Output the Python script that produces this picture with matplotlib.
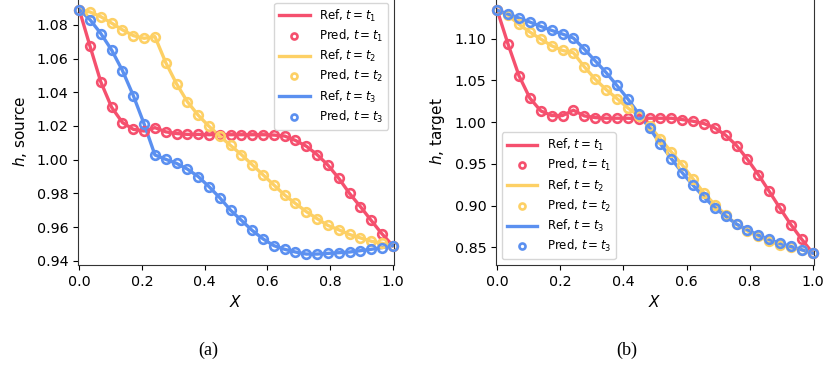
import matplotlib
matplotlib.use("Agg")
import matplotlib.pyplot as plt
import numpy as np

n_points = 30
x_grid = np.linspace(0.0, 1.0, n_points)

# Panel (a): source
src_t1 = [1.089, 1.0672, 1.046, 1.031, 1.022, 1.018, 1.017, 1.019, 1.0165, 1.0155,
          1.015, 1.015, 1.0148, 1.0148, 1.0148, 1.0148, 1.0148, 1.0148, 1.0146, 1.014,
          1.0114, 1.008, 1.003, 0.9968, 0.989, 0.980, 0.9722, 0.964, 0.956, 0.949]
src_t2 = [1.089, 1.0876, 1.0848, 1.081, 1.077, 1.0736, 1.072, 1.073, 1.0576, 1.045,
          1.0344, 1.0264, 1.0198, 1.014, 1.0084, 1.003, 0.997, 0.991, 0.985, 0.979,
          0.974, 0.9692, 0.965, 0.961, 0.9584, 0.9556, 0.9536, 0.9516, 0.9504, 0.949]
src_t3 = [1.089, 1.083, 1.0748, 1.065, 1.0528, 1.038, 1.0212, 1.0028, 1.0002, 0.9978,
          0.9944, 0.990, 0.984, 0.9774, 0.970, 0.964, 0.958, 0.953, 0.949, 0.9468,
          0.9452, 0.944, 0.944, 0.9444, 0.9448, 0.9452, 0.946, 0.9468, 0.9478, 0.949]

# Panel (b): target
tgt_t1 = [1.134, 1.0932, 1.0556, 1.0288, 1.0136, 1.008, 1.008, 1.0144, 1.0076, 1.0056,
          1.0048, 1.0048, 1.0048, 1.0044, 1.0048, 1.0048, 1.0048, 1.0032, 1.0012, 0.9984,
          0.9932, 0.9844, 0.972, 0.9556, 0.9372, 0.9172, 0.8968, 0.8772, 0.8596, 0.8432]
tgt_t2 = [1.134, 1.128, 1.1172, 1.108, 1.0996, 1.0916, 1.086, 1.0832, 1.0664, 1.0516,
          1.0392, 1.0284, 1.0172, 1.008, 0.9956, 0.980, 0.9644, 0.9488, 0.932, 0.9152,
          0.9012, 0.8888, 0.8776, 0.8696, 0.8632, 0.8576, 0.8532, 0.850, 0.8472, 0.8432]
tgt_t3 = [1.134, 1.1296, 1.1248, 1.12, 1.1148, 1.11, 1.1056, 1.1008, 1.0876, 1.0736,
          1.0596, 1.044, 1.028, 1.010, 0.9928, 0.974, 0.9564, 0.9396, 0.9244, 0.9104,
          0.8976, 0.8872, 0.878, 0.8712, 0.8648, 0.8596, 0.8548, 0.8512, 0.8472, 0.8432]

series_labels = ["t_1", "t_2", "t_3"]
colors = ["#F5506E", "#FDD065", "#5B90F0"]

fig = plt.figure(figsize=(8.27, 3.66), dpi=100)
ax_a = fig.add_axes([78 / 827, 101 / 366, 316 / 827, 268 / 366])
ax_b = fig.add_axes([496 / 827, 101 / 366, 318 / 827, 268 / 366])

def draw(ax, data, ylabel, loc):
    for vals, lab, c in zip(data, series_labels, colors):
        ax.plot(x_grid, vals, color=c, lw=2.4, label=r"Ref, $t=%s$" % lab, zorder=2)
        ax.plot(x_grid, vals, ls="none", marker="o", ms=6.2, mfc="none", mec=c, mew=1.9,
                label=r"Pred, $t=%s$" % lab, zorder=3, clip_on=False)
    ax.set_xlim(-0.004, 1.004)
    ax.set_xticks([0.0, 0.2, 0.4, 0.6, 0.8, 1.0])
    ax.tick_params(labelsize=10.3)
    ax.set_xlabel(r"$X$", fontsize=11, labelpad=4)
    ax.set_ylabel(ylabel, fontsize=11, labelpad=5)
    ax.legend(loc=loc, fontsize=8.5, handlelength=2.6, markerscale=0.7,
              borderpad=0.4, labelspacing=0.35, framealpha=0.8)
    for sp in ax.spines.values():
        sp.set_color("#333333")

draw(ax_a, [src_t1, src_t2, src_t3], r"$h$, source", "upper right")
draw(ax_b, [tgt_t1, tgt_t2, tgt_t3], r"$h$, target", "lower left")
ax_a.set_ylim(0.9375, 1.0965)
ax_b.set_ylim(0.829, 1.150)
ax_a.set_yticks([0.94, 0.96, 0.98, 1.00, 1.02, 1.04, 1.06, 1.08])
ax_b.set_yticks([0.85, 0.90, 0.95, 1.00, 1.05, 1.10])

fig.text(208 / 827, 1 - 350 / 366, "(a)", ha="center", va="center",
         fontsize=13, family="Liberation Serif")
fig.text(627 / 827, 1 - 350 / 366, "(b)", ha="center", va="center",
         fontsize=13, family="Liberation Serif")

fig.savefig("out.png", dpi=100)
